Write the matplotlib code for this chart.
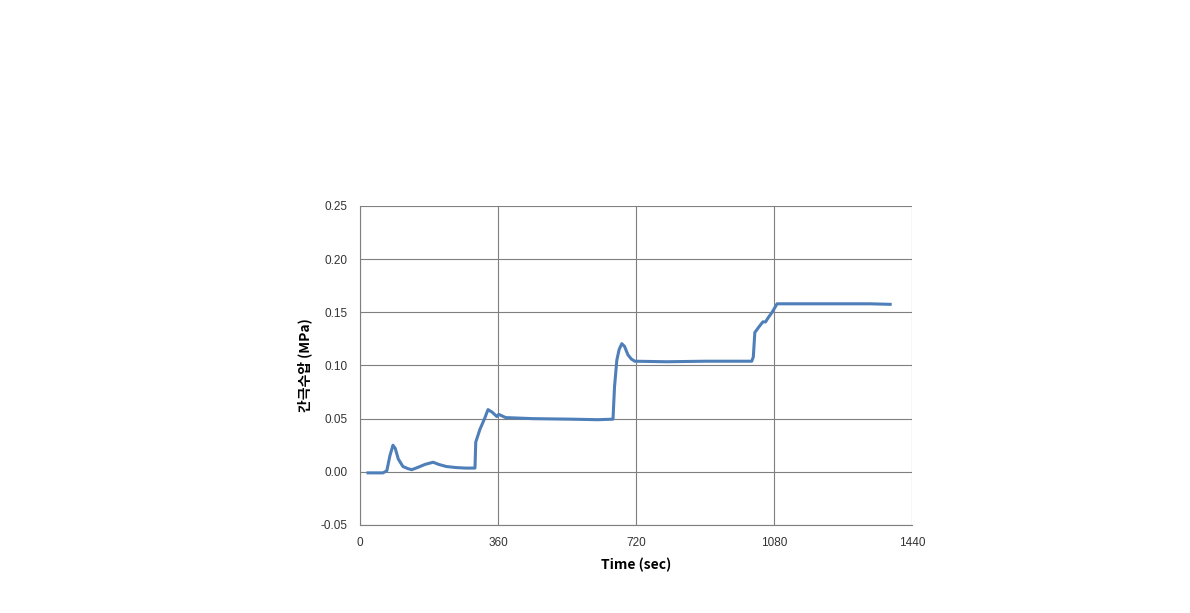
import matplotlib
matplotlib.use("Agg")
import matplotlib.pyplot as plt

plt.rcParams['font.family'] = ['Noto Sans CJK KR', 'DejaVu Sans']

# time (sec) and pore water pressure (MPa)
time = [21, 40, 60, 70, 78, 86, 92, 100, 112, 125, 135, 150, 170, 191, 205, 225, 250, 275, 300,
        302, 313, 325, 334, 345, 357, 362, 380, 450, 550, 620, 660,
        664, 670, 676, 683, 690, 699, 708, 717, 800, 900, 1000, 1022,
        1026, 1030, 1040, 1051, 1058, 1065, 1075, 1088, 1150, 1250, 1330, 1383]
pressure = [-0.001, -0.001, -0.001, 0.001, 0.015, 0.025, 0.022, 0.012, 0.005, 0.003, 0.002, 0.004, 0.007, 0.009, 0.007, 0.005, 0.004, 0.0035, 0.0035,
            0.028, 0.040, 0.050, 0.0585, 0.056, 0.052, 0.054, 0.051, 0.050, 0.0495, 0.049, 0.0495,
            0.080, 0.105, 0.115, 0.1205, 0.118, 0.110, 0.106, 0.104, 0.1035, 0.104, 0.104, 0.104,
            0.108, 0.131, 0.136, 0.141, 0.141, 0.145, 0.150, 0.158, 0.158, 0.158, 0.158, 0.1575]

x_ticks = [0, 360, 720, 1080, 1440]
y_ticks = [-0.05, 0.00, 0.05, 0.10, 0.15, 0.20, 0.25]

fig = plt.figure(figsize=(11.9, 6.13), dpi=100)
ax = fig.add_axes([0.3025, 0.1436, 0.4639, 0.5204])

ax.plot(time, pressure, color='#4f7fb8', linewidth=2.2)

ax.set_xlim(0, 1440)
ax.set_ylim(-0.05, 0.25)
ax.set_xticks(x_ticks)
ax.set_yticks(y_ticks)
ax.set_yticklabels(['%.2f' % v for v in y_ticks])
ax.tick_params(length=0, labelsize=8.5, colors='#333333', pad=9)
for lbl in ax.get_xticklabels() + ax.get_yticklabels():
    lbl.set_family(['Liberation Sans', 'DejaVu Sans'])
ax.grid(True, color='#7f7f7f', linewidth=0.8)

for side in ['top', 'right']:
    ax.spines[side].set_visible(False)
ax.spines['left'].set_color('#7f7f7f')
ax.spines['bottom'].set_color('#7f7f7f')

ax.set_xlabel('Time (sec)', fontsize=10, fontweight='bold', labelpad=6)
ax.set_ylabel('간극수압 (MPa)', fontsize=10, fontweight='bold', labelpad=6)

fig.savefig('out.png', dpi=100)
